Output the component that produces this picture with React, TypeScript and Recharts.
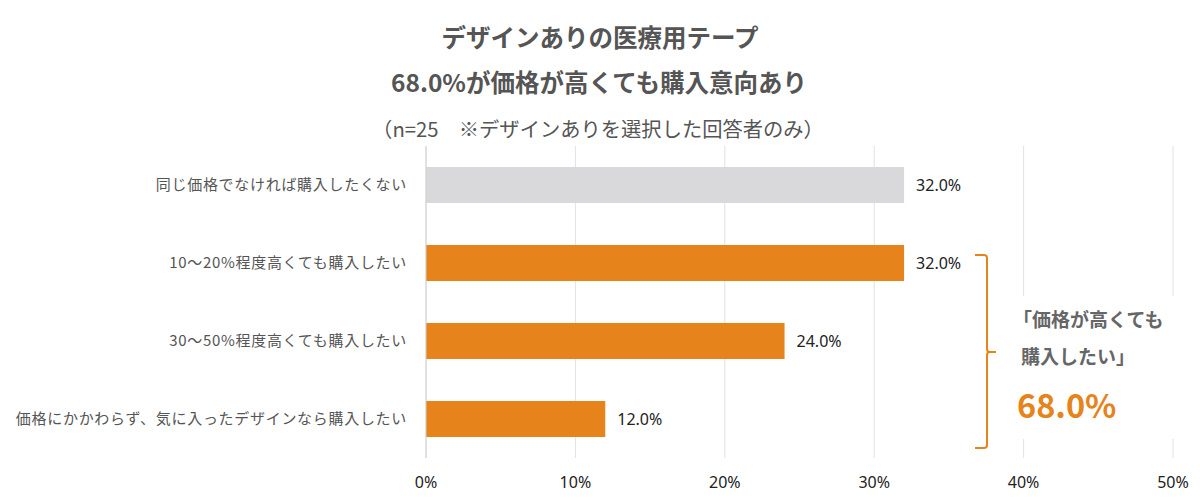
import React from "react";
import { BarChart, Bar, XAxis, YAxis, CartesianGrid, LabelList, Cell } from "recharts";

const categories = [
  "同じ価格でなければ購入したくない",
  "10〜20%程度高くても購入したい",
  "30〜50%程度高くても購入したい",
  "価格にかかわらず、気に入ったデザインなら購入したい",
];
const values = [32.0, 32.0, 24.0, 12.0];
const highlighted = [false, true, true, true];
const xTicks = [0, 10, 20, 30, 40, 50];

const GRAY = "#d9d8da";
const ORANGE = "#e6831a";
const JP = "'Noto Sans CJK JP', 'Noto Sans', sans-serif";
const NARROW = "'Liberation Sans Narrow', 'Noto Sans', sans-serif";

const data = categories.map((name, i) => ({ name, value: values[i], hi: highlighted[i] }));

export default function App() {
  return (
    <div style={{ position: "absolute", left: 0, top: 0, width: 1200, height: 500, background: "#fff", fontFamily: JP }}>
      <div style={{ position: "absolute", left: 0, width: 1200, top: 21, textAlign: "center", fontSize: 24.5, fontWeight: 700, color: "#555", lineHeight: "32px" }}>
        デザインありの医療用テープ
      </div>
      <div style={{ position: "absolute", left: 0, width: 1198, top: 66, textAlign: "center", fontSize: 24.5, fontWeight: 700, color: "#555", lineHeight: "32px" }}>
        68.0%が価格が高くても購入意向あり
      </div>
      <div style={{ position: "absolute", left: 0, width: 1196, top: 113, textAlign: "center", fontSize: 20.3, fontWeight: 400, color: "#555", lineHeight: "30px" }}>
        （n=25　※デザインありを選択した回答者のみ）
      </div>
      <div style={{ position: "absolute", left: 0, top: 0 }}>
        <BarChart
          width={1200}
          height={500}
          data={data}
          layout="vertical"
          margin={{ top: 146, right: 27, bottom: 0, left: 0 }}
          barCategoryGap={21}
        >
          <CartesianGrid horizontal={false} vertical={true} stroke="#e2e2e2" />
          <XAxis
            type="number"
            domain={[0, 50]}
            ticks={xTicks}
            tickFormatter={(v) => `${v}%`}
            axisLine={false}
            tickLine={false}
            tickSize={0}
            tickMargin={19}
            height={42}
            tick={{ fill: "#222", fontSize: 16, fontFamily: NARROW }}
          />
          <YAxis
            type="category"
            dataKey="name"
            width={426}
            axisLine={{ stroke: "#d0d0d0" }}
            tickLine={false}
            tickSize={0}
            tickMargin={19}
            tick={{ fill: "#555", fontSize: 15, letterSpacing: 0.7, fontFamily: JP }}
          />
          <Bar dataKey="value" isAnimationActive={false}>
            {data.map((d, i) => (
              <Cell key={i} fill={d.hi ? ORANGE : GRAY} />
            ))}
            <LabelList
              dataKey="value"
              position="right"
              offset={12}
              formatter={(v: number) => `${Number(v).toFixed(1)}%`}
              style={{ fill: "#222", fontSize: 16, fontFamily: NARROW }}
            />
          </Bar>
        </BarChart>
      </div>
      <svg style={{ position: "absolute", left: 0, top: 0 }} width={1200} height={500}>
        <path
          d="M975 255 L984 255 Q987 255 987 258 L987 349 Q987 352 990 352 L996 352 M990 352 Q987 352 987 355 L987 445 Q987 448 984 448 L975 448"
          fill="none"
          stroke={ORANGE}
          strokeWidth={2}
        />
      </svg>
      <div style={{ position: "absolute", left: 1003, top: 296, width: 190, height: 143, background: "#fff" }} />
      <div style={{ position: "absolute", left: 1013, top: 305, fontSize: 19, fontWeight: 700, color: "#666", lineHeight: "28px" }}>
        「価格が高くても
      </div>
      <div style={{ position: "absolute", left: 1021, top: 342, fontSize: 19, fontWeight: 700, color: "#666", lineHeight: "28px" }}>
        購入したい」
      </div>
      <div style={{ position: "absolute", left: 1017, top: 384, fontSize: 32.5, fontWeight: 700, color: ORANGE, lineHeight: "40px" }}>
        68.0%
      </div>
    </div>
  );
}
